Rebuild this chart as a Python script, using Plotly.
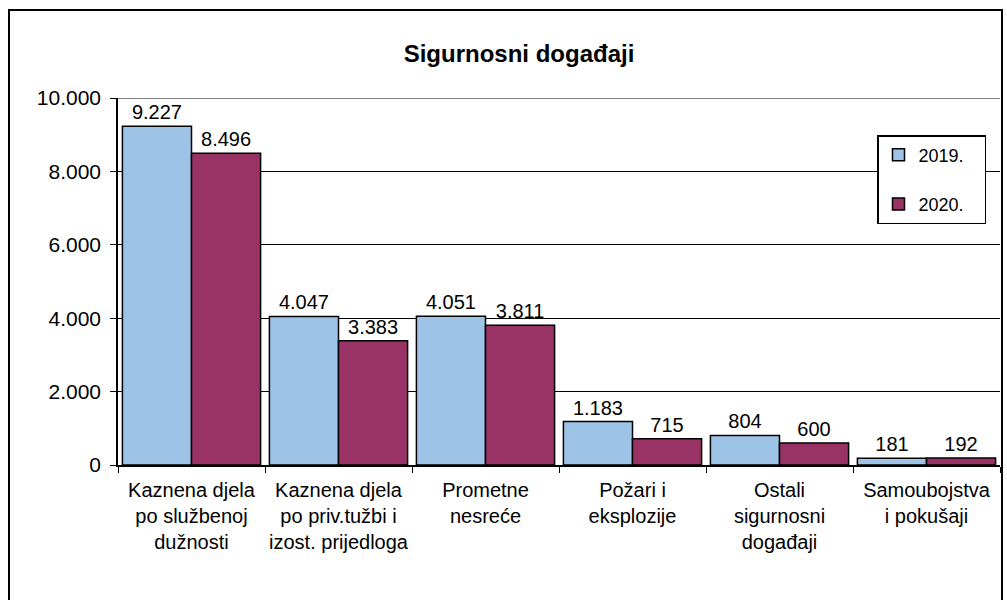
import plotly.graph_objects as go

categories = [
    "Kaznena djela<br>po službenoj<br>dužnosti",
    "Kaznena djela<br>po priv.tužbi i<br>izost. prijedloga",
    "Prometne<br>nesreće",
    "Požari i<br>eksplozije",
    "Ostali<br>sigurnosni<br>događaji",
    "Samoubojstva<br>i pokušaji",
]
values_2019 = [9227, 4047, 4051, 1183, 804, 181]
values_2020 = [8496, 3383, 3811, 715, 600, 192]
y_ticks = [0, 2000, 4000, 6000, 8000, 10000]

FONT = "Arial, Liberation Sans, sans-serif"
C_2019 = "#9DC3E6"
C_2020 = "#993366"

# plot area in pixels (margins below)
L, R, T, B = 118, 7, 98, 135
W, H = 1007, 600
PW, PH = W - L - R, H - T - B


def px_x(x):
    return (x - L) / PW


def px_y(y):
    return (H - B - y) / PH


fig = go.Figure()
for name, vals, col in [("2019.", values_2019, C_2019), ("2020.", values_2020, C_2020)]:
    fig.add_trace(go.Bar(
        x=categories, y=vals, name=name + "\u00a0\u00a0\u00a0", legendgroup=name,
        marker=dict(color=col, line=dict(color="black", width=1.5)),
        texttemplate="%{y:,}", textposition="outside",
        textfont=dict(size=20, color="black", family=FONT),
        cliponaxis=False,
    ))

fig.update_layout(
    width=W, height=H,
    separators=",.",
    paper_bgcolor="white", plot_bgcolor="white",
    font=dict(family=FONT, size=20, color="black"),
    margin=dict(l=L, r=R, t=T, b=B, autoexpand=False),
    barmode="group", bargap=0.06, bargroupgap=0,
    title=dict(text="<b>Sigurnosni događaji</b>", x=519 / W, xref="container",
               xanchor="center", y=1 - 54 / H, yanchor="middle",
               font=dict(size=24, family=FONT, color="black")),
    legend=dict(x=px_x(877), y=px_y(135), xanchor="left", yanchor="top",
                bgcolor="white", bordercolor="black", borderwidth=1.5,
                font=dict(size=18, family=FONT), tracegroupgap=23,
                itemwidth=30),
    xaxis=dict(showline=True, linecolor="black", linewidth=2, tickangle=0,
               automargin=False, ticklabelstandoff=6,
               ticks="outside", tickson="boundaries", ticklen=6, tickcolor="black",
               tickfont=dict(size=20)),
    yaxis=dict(range=[0, 10000], tickvals=y_ticks, tickformat=",",
               automargin=False, ticklabelstandoff=5,
               showline=True, linecolor="black", linewidth=1.5,
               ticks="outside", ticklen=6, tickcolor="black",
               showgrid=True, gridcolor="black", gridwidth=1,
               zeroline=False, tickfont=dict(size=21)),
    shapes=[
        # outer chart frame
        dict(type="rect", xref="paper", yref="paper",
             x0=px_x(9), x1=px_x(1002), y0=px_y(620), y1=px_y(10),
             line=dict(color="black", width=2), layer="below"),
        # lighter top border of plot area
        dict(type="line", xref="paper", yref="y", x0=0, x1=1, y0=10000, y1=10000,
             line=dict(color="#808080", width=2)),
    ],
)

fig.write_html("out.html", config={"displayModeBar": False},
               post_script="document.body.style.margin='0';")
